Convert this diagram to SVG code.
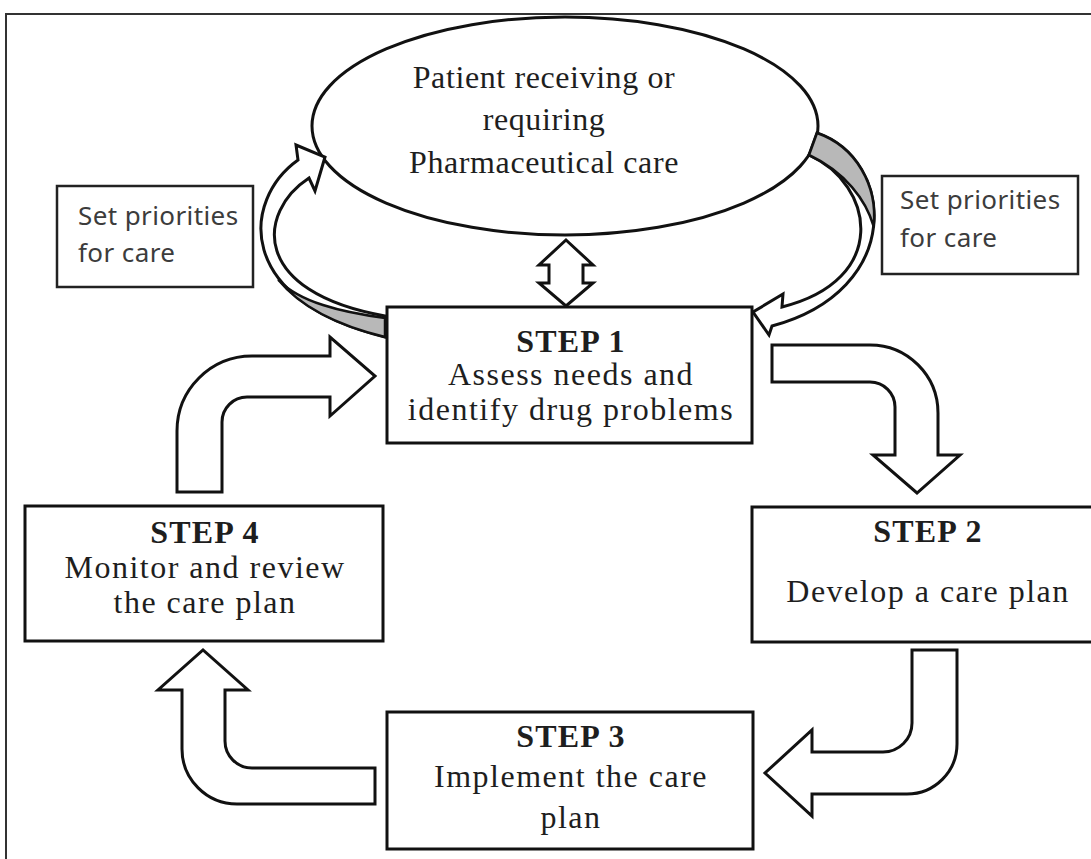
<svg xmlns="http://www.w3.org/2000/svg" width="1091" height="859" viewBox="0 0 1091 859">
<style>
.box{fill:#fff;stroke:#111;stroke-width:3}
.note{fill:#fff;stroke:#222;stroke-width:2.5}
.arrow{fill:#fff;stroke:#111;stroke-width:3;stroke-linejoin:miter}
.shade{fill:#b8b8b8;stroke:#111;stroke-width:2.5;stroke-linejoin:round}
.serif{font-family:"Liberation Serif","Times New Roman",serif;fill:#1e1e1e;font-size:32px;letter-spacing:1.5px;text-anchor:middle}
.ell{letter-spacing:0.6px}
.step{font-weight:bold;font-size:32px;letter-spacing:1.2px}
.sans{font-family:"Noto Sans","Open Sans",sans-serif;font-size:26px;fill:#3c3c3c;letter-spacing:0.4px}
</style>
<rect width="1091" height="859" fill="#fff"/>
<path d="M6,859 V14 H1091" fill="none" stroke="#333" stroke-width="2"/>

<g id="patient">
<ellipse cx="565" cy="126" rx="253" ry="109" class="box"/>
<text class="serif ell" x="544" y="88">Patient receiving or</text>
<text class="serif ell" x="544" y="130">requiring</text>
<text class="serif ell" x="544" y="173">Pharmaceutical care</text>
</g>

<g id="priorities-left">
<rect x="57" y="186" width="196" height="101" class="note"/>
<text class="sans" x="78" y="225">Set priorities</text>
<text class="sans" x="78" y="262">for care</text>
</g>

<g id="priorities-right">
<rect x="882" y="176" width="196" height="98" class="note"/>
<text class="sans" x="900" y="209">Set priorities</text>
<text class="sans" x="900" y="247">for care</text>
</g>

<g id="step1">
<rect x="387" y="307" width="365" height="136" class="box"/>
<text class="serif step" x="571" y="352">STEP 1</text>
<text class="serif" x="571" y="385">Assess needs and</text>
<text class="serif" x="571" y="420">identify drug problems</text>
</g>

<g id="step2">
<rect x="752" y="507" width="360" height="135" class="box"/>
<text class="serif step" x="928" y="542">STEP 2</text>
<text class="serif" x="928" y="602">Develop a care plan</text>
</g>

<g id="step3">
<rect x="387" y="712" width="366" height="137" class="box"/>
<text class="serif step" x="571" y="747">STEP 3</text>
<text class="serif" x="571" y="787">Implement the care</text>
<text class="serif" x="571" y="828">plan</text>
</g>

<g id="step4">
<rect x="25" y="506" width="358" height="135" class="box"/>
<text class="serif step" x="205" y="543">STEP 4</text>
<text class="serif" x="205" y="578">Monitor and review</text>
<text class="serif" x="205" y="613">the care plan</text>
</g>

<g id="connectors">
<path class="arrow" d="M566,240 L593,265 L583,265 L583,283 L593,283 L566,306 L539,283 L549,283 L549,265 L539,265 Z"/>
<path class="arrow" d="M298,160 L296,145 L325,157 L315,191 L309,178 C257,212 250,292 385,316 L385,337 C234,300 242,200 298,160 Z"/>
<path class="shade" d="M278.7,280.3 C297.6,303.4 331.45,324.05 385,337 L385,318 C340,312 300,302 278.7,280.3 Z"/>
<path class="arrow" d="M809,155 C875,185 890,280 782,307 L783,294 L753,312 L769,335 L772,326 C905,290 895,160 817,133 Z"/>
<path class="shade" d="M817,133 C856,146.5 878,185.75 873.6,226.25 C866,200 845,172 809,155 Z"/>
<path class="arrow" d="M772,345 L870,345 A68,68 0 0 1 938,413 L938,455 L960,455 L917,493 L873,455 L895,455 L895,407 A25,25 0 0 0 870,382 L772,382 Z"/>
<path class="arrow" d="M912,650 L957,650 L957,744 A50,50 0 0 1 907,794 L812,794 L812,816 L765,773 L812,730 L812,752 L883,752 A29,29 0 0 0 912,723 Z"/>
<path class="arrow" d="M375,768 L252,768 A27,27 0 0 1 225,741 L225,690 L248,690 L203,650 L158,690 L182,690 L182,749 A55,55 0 0 0 237,804 L375,804 Z"/>
<path class="arrow" d="M177,492 L177,431 A75,75 0 0 1 252,356 L330,356 L330,337 L375,376 L330,416 L330,397 L247,397 A25,25 0 0 0 222,422 L222,492 Z"/>
</g>
</svg>
